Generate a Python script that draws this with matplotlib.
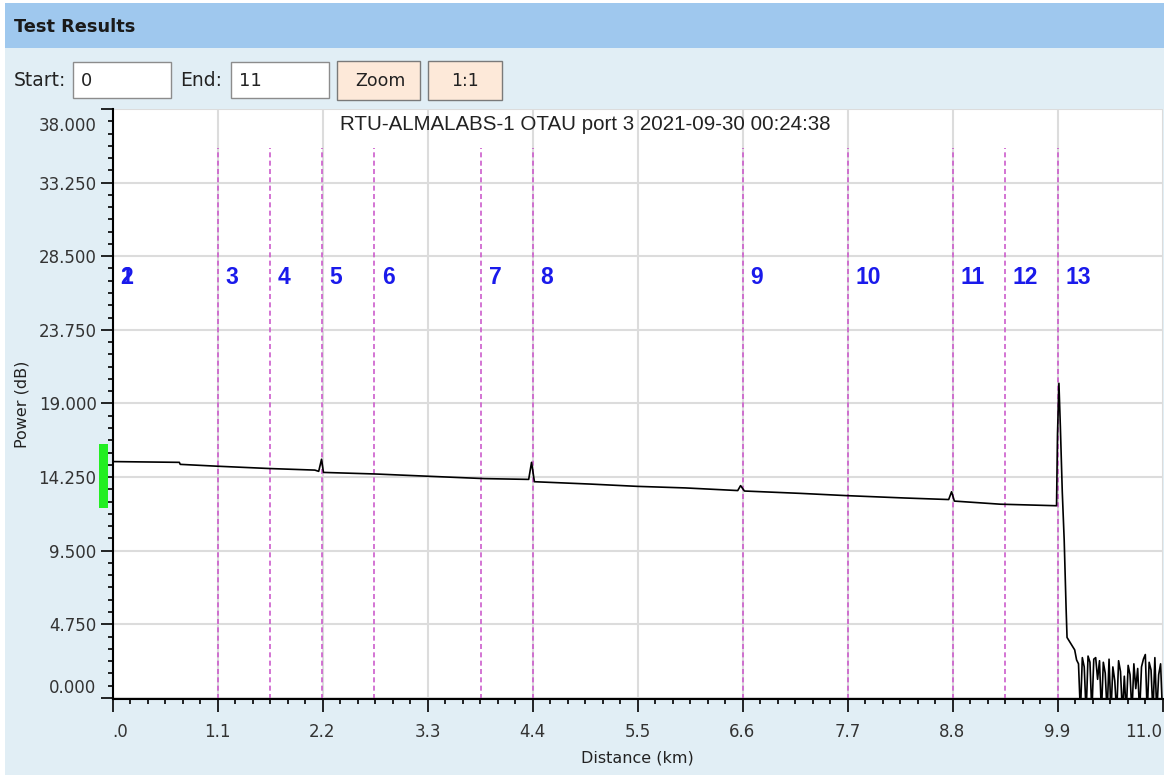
"""OTDR trace screenshot: Test Results panel with event markers."""

import matplotlib
matplotlib.use("Agg")
import matplotlib.pyplot as plt
import matplotlib.transforms as mtransforms
import numpy as np
from matplotlib.patches import Rectangle
from matplotlib.ticker import FixedLocator, MultipleLocator

W, H = 1164, 778

PANEL_TITLE = "Test Results"
CHART_TITLE = "RTU-ALMALABS-1 OTAU port 3 2021-09-30 00:24:38"
START_VALUE = "0"
END_VALUE = "11"

# Trace key points (km, dB)
trace_km = [0.00, 0.70, 0.71, 1.10, 1.65, 2.12, 2.16, 2.19, 2.21, 2.75,
            3.32, 3.90, 4.36, 4.39, 4.42, 5.00, 5.50, 6.00, 6.55, 6.58,
            6.62, 7.20, 7.70, 8.30, 8.76, 8.79, 8.82, 9.30, 9.60, 9.89,
            9.90, 9.915, 9.93, 9.95, 9.97, 9.99, 10.00, 10.04, 10.08, 10.10]
trace_db = [15.25, 15.20, 15.07, 14.95, 14.80, 14.70, 14.62, 15.40, 14.55, 14.45,
            14.30, 14.15, 14.10, 15.20, 13.95, 13.80, 13.65, 13.55, 13.38, 13.70,
            13.35, 13.20, 13.05, 12.90, 12.80, 13.30, 12.70, 12.50, 12.45, 12.40,
            17.00, 20.30, 17.50, 13.30, 10.20, 5.80, 3.90, 3.50, 3.10, 2.45]

# Noise floor after fibre end
noise_start_km = 10.12
noise_step_km = 0.02
noise_db = [2.2, -1, 2.6, 2.0, -1, 2.7, 2.3, -1, 2.5, 2.6,
            1.2, 2.4, -1, 2.3, 1.6, -1, 2.5, -1, 2.0, 1.1,
            -1, 2.4, 1.7, -1, 1.4, -1, 2.1, 1.5, -1, 2.2,
            0.6, 1.9, -1, 2.0, 2.5, 2.8, -1, 2.3, 1.8, -1,
            2.6, -1, 1.5, 2.2, -1]

# Event markers
event_km = [0.0, 0.0, 1.10, 1.65, 2.19, 2.74, 3.86, 4.40, 6.60, 7.70, 8.80, 9.35, 9.90]
event_labels = ["1", "2", "3", "4", "5", "6", "7", "8", "9", "10", "11", "12", "13"]
event_label_db = 27.1

x_ticks = [0.0, 1.1, 2.2, 3.3, 4.4, 5.5, 6.6, 7.7, 8.8, 9.9, 11.0]
x_tick_labels = [".0", "1.1", "2.2", "3.3", "4.4", "5.5", "6.6", "7.7", "8.8", "9.9", "11.0"]
y_ticks = [0.0, 4.75, 9.5, 14.25, 19.0, 23.75, 28.5, 33.25, 38.0]
y_tick_labels = [f"{v:.3f}" for v in y_ticks]

# level bar on the left of the axis (dB range)
level_bar_db = (12.26, 16.40)

BG = "#e1eef5"
HEADER = "#9fc8ee"
TICK_FONT = "DejaVu Sans"


def fx(px):
    return px / W


def fy(py):
    return 1 - py / H


def fig_rect(fig, x0, y0, x1, y1, face, edge="none", lw=1.0):
    fig.patches.append(Rectangle((fx(x0), fy(y1)), fx(x1) - fx(x0), fy(y0) - fy(y1),
                                 transform=fig.transFigure, facecolor=face,
                                 edgecolor=edge, linewidth=lw, zorder=-10))


def main():
    fig = plt.figure(figsize=(W / 100, H / 100), dpi=100, facecolor="white")

    # page chrome
    fig_rect(fig, 5, 48, W, 775, BG)
    fig_rect(fig, 5, 3, W, 48, HEADER)
    fig.text(fx(14), fy(27), PANEL_TITLE, fontsize=12.8, fontweight="bold",
             family=TICK_FONT, color="#1a1a1a", va="center")

    fig.text(fx(14), fy(81), "Start:", fontsize=13.5, family=TICK_FONT, va="center", color="#222")
    fig_rect(fig, 73, 62, 171, 98, "white", "#8c8c8c")
    fig.text(fx(81), fy(81), START_VALUE, fontsize=13, family=TICK_FONT, va="center", color="#222")
    fig.text(fx(180), fy(81), "End:", fontsize=13.5, family=TICK_FONT, va="center", color="#222")
    fig_rect(fig, 231, 62, 329, 98, "white", "#8c8c8c")
    fig.text(fx(239), fy(81), END_VALUE, fontsize=13, family=TICK_FONT, va="center", color="#222")
    fig_rect(fig, 337, 61, 420, 100, "#fde9d9", "#7a7a7a")
    fig.text(fx(380), fy(81), "Zoom", fontsize=12.5, family=TICK_FONT, ha="center", va="center", color="#222")
    fig_rect(fig, 428, 61, 502, 100, "#fde9d9", "#7a7a7a")
    fig.text(fx(465), fy(81), "1:1", fontsize=12.5, family=TICK_FONT, ha="center", va="center", color="#222")

    ax = fig.add_axes([fx(112.5), fy(699), fx(1050), 590 / H])
    ax.set_zorder(1)
    ax.set_facecolor("white")
    ax.set_xlim(0, 11.0)
    ax.set_ylim(-0.07, 38.0)

    for side in ("top", "right"):
        ax.spines[side].set_visible(False)
    for side in ("left", "bottom"):
        ax.spines[side].set_color("black")
        ax.spines[side].set_linewidth(1.5)

    ax.xaxis.set_major_locator(FixedLocator(x_ticks))
    ax.set_xticklabels(x_tick_labels)
    ax.xaxis.set_minor_locator(MultipleLocator(1.1 / 6))
    ax.yaxis.set_major_locator(FixedLocator(y_ticks))
    ax.set_yticklabels(y_tick_labels)
    ax.yaxis.set_minor_locator(MultipleLocator(4.75 / 6))

    ax.tick_params(which="major", length=9, width=1.2, color="black",
                   labelsize=12, labelcolor="#333333")
    ax.tick_params(which="minor", length=3.5, width=1.2, color="black")
    ax.tick_params(axis="x", which="major", pad=8)
    ax.tick_params(axis="y", which="major", pad=2.5)
    for lab in ax.get_xticklabels() + ax.get_yticklabels():
        lab.set_family(TICK_FONT)

    xlabels = ax.xaxis.get_major_ticks()
    xlabels[0].label1.set_horizontalalignment("left")
    xlabels[-1].label1.set_horizontalalignment("right")
    yticks = ax.yaxis.get_major_ticks()
    yticks[-1].label1.set_transform(yticks[-1].label1.get_transform()
                                    + mtransforms.ScaledTranslation(0, -0.15, fig.dpi_scale_trans))
    yticks[0].label1.set_transform(yticks[0].label1.get_transform()
                                   + mtransforms.ScaledTranslation(0, 0.12, fig.dpi_scale_trans))

    ax.grid(which="major", color="#dcdcdc", linewidth=1.5)
    ax.set_axisbelow(True)

    # event marker lines and numbers
    for km, label in zip(event_km, event_labels):
        ax.axvline(km, ymin=0, ymax=0.934, color="#cc5ccc", linewidth=1.2,
                   linestyle=(0, (3, 2)), zorder=2)
        ax.annotate(label, (km, event_label_db), xytext=(5.5, 0), textcoords="offset points",
                    ha="left", va="center", color="#1a1aeb", fontsize=16.5,
                    fontweight="bold", family="Liberation Sans", zorder=4)

    noise_km = noise_start_km + noise_step_km * np.arange(len(noise_db))
    km = np.concatenate([trace_km, noise_km])
    db = np.concatenate([trace_db, noise_db])
    ax.plot(km, db, color="black", linewidth=1.2, zorder=3)

    ax.add_patch(Rectangle((-0.0129, level_bar_db[0]), 0.0086, level_bar_db[1] - level_bar_db[0],
                           transform=ax.get_yaxis_transform(), facecolor="#22ee22",
                           edgecolor="none", clip_on=False, zorder=5))

    ax.text((585 - 112.5) / 1050, (699 - 124) / 590, CHART_TITLE, transform=ax.transAxes,
            ha="center", va="center", fontsize=14.8, family="Liberation Sans", color="#222")

    ax.set_xlabel("Distance (km)", fontsize=11.5, family=TICK_FONT, color="#222")
    ax.xaxis.set_label_coords(0.5, (699 - 758) / 590)
    ax.xaxis.label.set_verticalalignment("center")
    ax.set_ylabel("Power (dB)", fontsize=11.5, family=TICK_FONT, color="#222")
    ax.yaxis.set_label_coords((22 - 112.5) / 1050, 0.5)
    ax.yaxis.label.set_verticalalignment("center")

    fig.savefig("out.png", dpi=100, facecolor=fig.get_facecolor())


if __name__ == "__main__":
    main()
